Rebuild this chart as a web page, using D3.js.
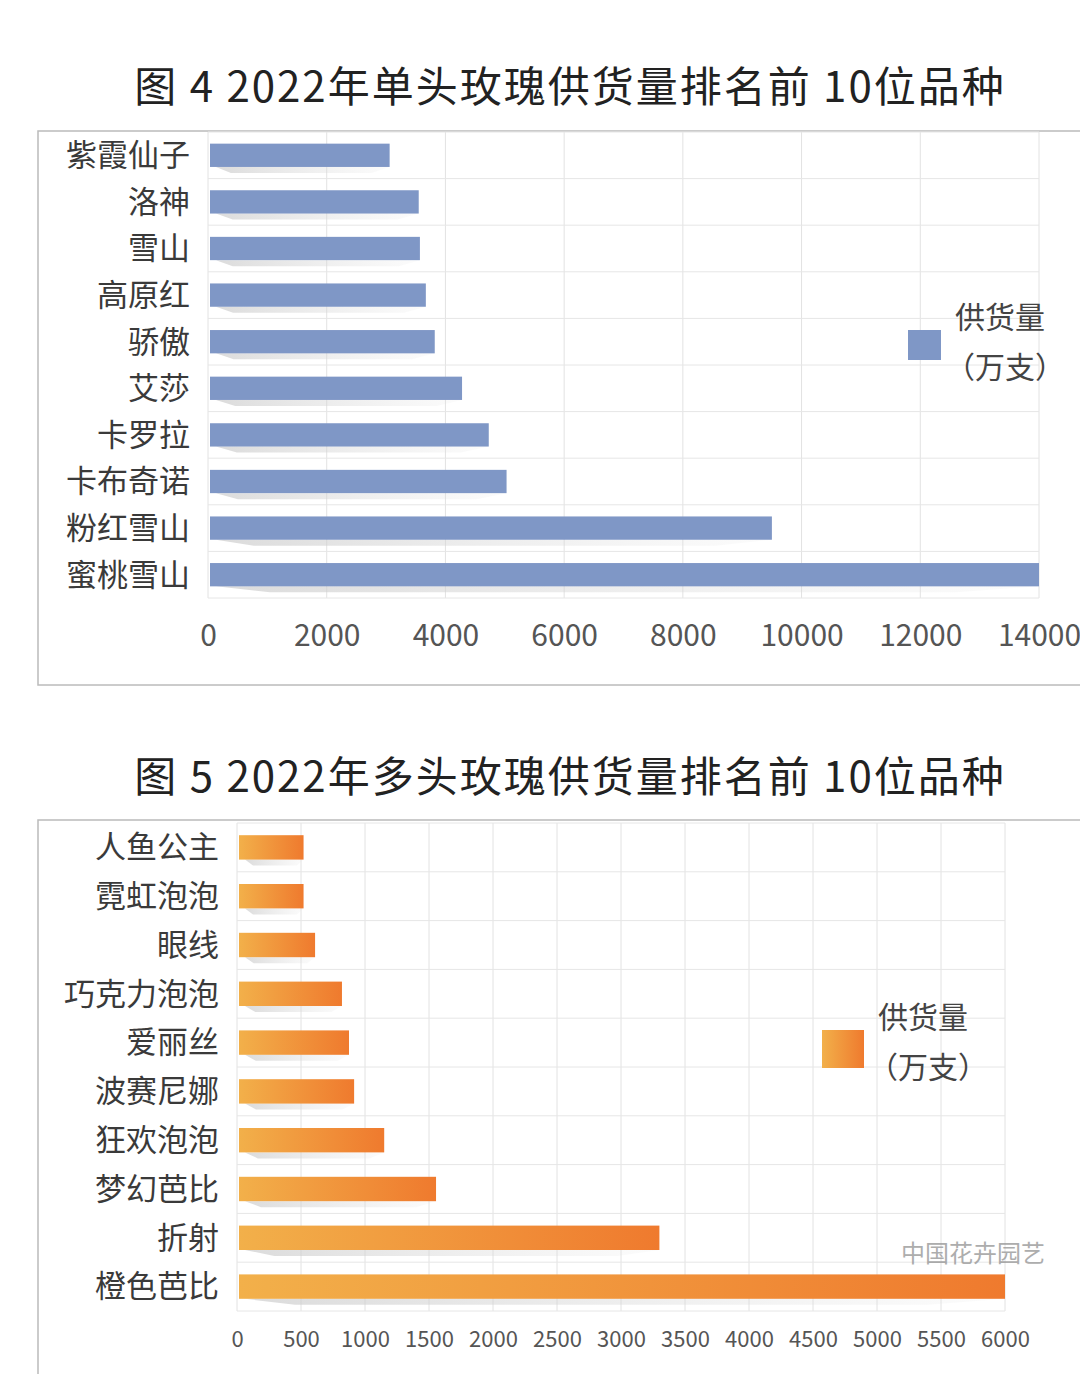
<!DOCTYPE html>
<html><head><meta charset="utf-8">
<script src="https://cdn.jsdelivr.net/npm/d3@7"></script>
<style>body{margin:0;background:#fff}svg{font-family:"Noto Sans CJK SC","Noto Sans",sans-serif}</style>
</head><body>
<svg id="c" width="1080" height="1374"></svg>
<script>
// chart 4: single-head roses
const singleNames = ['紫霞仙子','洛神','雪山','高原红','骄傲','艾莎','卡罗拉','卡布奇诺','粉红雪山','蜜桃雪山'];
const singleValues = [3060,3550,3570,3670,3820,4280,4730,5030,9500,14000];
const singleTicks = [0,2000,4000,6000,8000,10000,12000,14000];
// chart 5: multi-head roses
const multiNames = ['人鱼公主','霓虹泡泡','眼线','巧克力泡泡','爱丽丝','波赛尼娜','狂欢泡泡','梦幻芭比','折射','橙色芭比'];
const multiValues = [520,520,610,820,875,915,1150,1555,3300,6000];
const multiTicks = [0,500,1000,1500,2000,2500,3000,3500,4000,4500,5000,5500,6000];

const svg = d3.select('#c');
const defs = svg.append('defs');
const grad = defs.append('linearGradient').attr('id','og');
grad.append('stop').attr('offset','0%').attr('stop-color','#f2b04a');
grad.append('stop').attr('offset','100%').attr('stop-color','#ef7a2e');
const sg = defs.append('linearGradient').attr('id','sg');
sg.append('stop').attr('offset','0%').attr('stop-color','#ccc').attr('stop-opacity',0.7);
sg.append('stop').attr('offset','100%').attr('stop-color','#ddd').attr('stop-opacity',0.1);

function chart(o) {
  svg.append('text').attr('x',570).attr('y',o.titleY).attr('text-anchor','middle')
    .attr('font-size',42).attr('letter-spacing',2).attr('fill','#222').text(o.title);
  svg.append('rect').attr('x',38).attr('y',o.boxTop).attr('width',1060).attr('height',o.boxH)
    .attr('fill','none').attr('stroke','#bbb').attr('stroke-width',1.5);
  const x = d3.scaleLinear().domain([0,d3.max(o.ticks)]).range([o.x0,o.x1]);
  const y = d3.scaleBand().domain(o.names).range([o.y0,o.y1]).paddingInner(0.5).paddingOuter(0.25);
  const g = svg.append('g');
  g.selectAll('.vg').data(o.ticks).join('line').attr('x1',d=>x(d)).attr('x2',d=>x(d))
    .attr('y1',o.y0).attr('y2',o.y1).attr('stroke','#e2e2e2');
  const step = y.step();
  const off = (o.y1-o.y0-step*o.names.length)/2;
  g.selectAll('.hg').data(d3.range(o.names.length+1)).join('line')
    .attr('x1',o.x0).attr('x2',o.x1)
    .attr('y1',i=>o.y0+off+i*step).attr('y2',i=>o.y0+off+i*step)
    .attr('stroke','#e6e6e6');
  g.selectAll('.sh').data(o.names).join('path')
    .attr('d',(d,i)=>{const yy=y(d)+y.bandwidth(), w=x(o.values[i])-o.x0;
      return `M${o.x0+8},${yy} L${x(o.values[i])},${yy} L${x(o.values[i])-w*0.1},${yy+6} L${o.x0+w*0.06+12},${yy+6}Z`;})
    .attr('fill','url(#sg)');
  g.selectAll('.bar').data(o.names).join('rect')
    .attr('x',o.x0+2).attr('y',d=>y(d)).attr('height',y.bandwidth())
    .attr('width',(d,i)=>x(o.values[i])-o.x0-2).attr('fill',o.fill);
  g.selectAll('.lab').data(o.names).join('text')
    .attr('x',o.x0-18).attr('y',d=>y(d)+y.bandwidth()/2).attr('dy','0.35em')
    .attr('text-anchor','end').attr('font-size',31).attr('fill','#3a3a3a').text(d=>d);
  const ax = g.append('g').attr('transform',`translate(0,${o.axisY})`)
    .call(d3.axisBottom(x).tickValues(o.ticks).tickSize(0).tickFormat(d3.format('d')));
  ax.select('.domain').remove();
  ax.selectAll('text').attr('font-size',o.tickFont).attr('fill','#555')
    .attr('font-family','"Noto Sans CJK SC",sans-serif');
  svg.append('rect').attr('x',o.lx).attr('y',o.ly).attr('width',o.lw).attr('height',o.lh).attr('fill',o.fill);
  svg.append('text').attr('x',o.lx+o.lw+14).attr('y',o.ly-2).attr('font-size',30).attr('fill','#444').text('供货量');
  svg.append('text').attr('x',o.lx+o.lw+4).attr('y',o.ly+48).attr('font-size',30).attr('fill','#444').text('（万支）');
}

chart({title:'图 4  2022年单头玫瑰供货量排名前 10位品种', titleY:102, boxTop:131, boxH:554,
  names:singleNames, values:singleValues, ticks:singleTicks,
  x0:208, x1:1039, y0:132, y1:598, axisY:622, tickFont:30, fill:'#7f97c6',
  lx:908, ly:330, lw:33, lh:30});
chart({title:'图 5  2022年多头玫瑰供货量排名前 10位品种', titleY:792, boxTop:820, boxH:600,
  names:multiNames, values:multiValues, ticks:multiTicks,
  x0:237, x1:1005, y0:823, y1:1311, axisY:1328, tickFont:22, fill:'url(#og)',
  lx:822, ly:1030, lw:42, lh:38});
svg.append('text').attr('x',1045).attr('y',1262).attr('text-anchor','end').attr('font-size',24)
  .attr('fill','#999').attr('opacity',0.8).text('中国花卉园艺');
</script>
</body></html>
